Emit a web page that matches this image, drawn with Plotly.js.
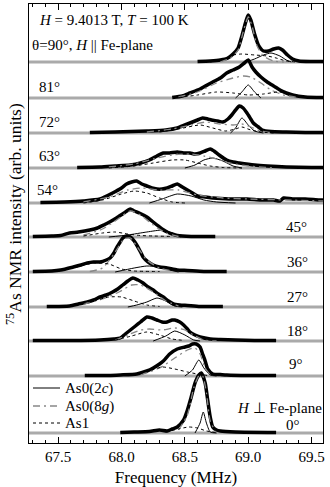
<!DOCTYPE html>
<html>
<head>
<meta charset="utf-8">
<script src="https://cdn.plot.ly/plotly-3.0.1.min.js"></script>
<style>
  html, body { margin: 0; padding: 0; background: #fff; }
  #chart { width: 330px; height: 487px; }
</style>
</head>
<body>
<div id="chart"></div>
<script>
// frequency range of the gray baselines (MHz)
const xFull = [67.27, 69.59];

// vertical offset of every spectrum (arb. units)
const angles  = ['90', '81', '72', '63', '54', '45', '36', '27', '18', '9', '0'];
const offsets = [381, 345, 310, 275, 240, 206, 171, 136, 102, 67, 10];

// [frequency MHz, intensity]
const obs90 = [[68.60,0.5],[68.70,1],[68.78,2],[68.84,4],[68.88,8],[68.92,14],[68.95,26],[68.98,40],[69.00,47],[69.02,42],[69.05,28],[69.08,17],[69.12,11],[69.16,11],[69.20,13],[69.24,14],[69.27,12],[69.31,7],[69.35,3],[69.40,1],[69.50,0.5],[69.59,0.5]];
const c2_90 = [[68.98,0],[69.05,3],[69.12,7],[69.18,9],[69.25,6],[69.30,2],[69.34,0]];
const g8_90 = [[68.78,0],[68.86,4],[68.92,12],[68.96,30],[69.00,45],[69.03,36],[69.07,16],[69.12,6],[69.20,1],[69.28,0]];
const a1_90 = [[68.70,0],[68.80,3],[68.88,7],[68.95,8],[69.05,7],[69.15,6],[69.22,4],[69.30,1],[69.38,0]];

const obs81 = [[68.40,0.5],[68.48,2],[68.54,5],[68.62,9],[68.72,16],[68.78,20],[68.83,25],[68.88,28],[68.93,31],[68.97,35],[69.00,38],[69.03,31],[69.06,26],[69.10,21],[69.15,16],[69.20,12],[69.25,8],[69.30,5],[69.35,3],[69.45,1],[69.59,0.5]];
const c2_81 = [[68.90,0],[68.95,6],[69.00,13],[69.05,6],[69.10,0]];
const g8_81 = [[68.45,1],[68.60,6],[68.75,15],[68.88,20],[68.96,22],[69.02,21],[69.10,15],[69.18,8],[69.28,3],[69.40,0.5]];
const a1_81 = [[68.45,0.5],[68.60,3],[68.75,6],[68.88,5],[69.00,3],[69.12,4],[69.24,6],[69.34,4],[69.45,1],[69.55,0]];

const obs72 = [[67.75,0.5],[67.95,1],[68.20,2],[68.35,3],[68.44,5],[68.50,8],[68.54,10],[68.60,13],[68.64,15],[68.68,14],[68.71,13],[68.76,12],[68.80,11],[68.84,14],[68.87,18],[68.90,23],[68.93,27],[68.96,25],[68.99,20],[69.02,14],[69.04,10],[69.08,6],[69.11,3],[69.18,1.5],[69.30,1],[69.45,0.5],[69.59,0.5]];
const c2_72 = [[68.86,0],[68.90,5],[68.95,15],[69.00,8],[69.05,2],[69.12,0]];
const g8_72 = [[68.20,1],[68.40,4],[68.55,8],[68.67,11],[68.78,9],[68.88,8],[68.95,9],[69.02,6],[69.10,2],[69.20,0]];
const a1_72 = [[68.30,1],[68.45,4],[68.62,8],[68.72,5],[68.82,2],[68.90,4],[68.95,6],[69.02,3],[69.10,1],[69.20,0]];

const obs63 = [[67.65,0.5],[67.83,1],[67.95,2],[68.07,3],[68.15,5],[68.22,8],[68.28,12],[68.33,15],[68.38,15],[68.44,16],[68.49,15],[68.54,15],[68.58,14],[68.62,15],[68.66,17],[68.70,19],[68.73,17],[68.77,13],[68.83,8],[68.88,6],[68.93,5],[69.05,3],[69.15,2],[69.30,1],[69.50,0.5],[69.59,0.5]];
const c2_63 = [[68.50,0],[68.58,3],[68.65,8],[68.72,10],[68.80,7],[68.88,2],[68.95,0]];
const g8_63 = [[67.90,1],[68.10,4],[68.25,9],[68.40,13],[68.55,14],[68.65,12],[68.75,9],[68.85,5],[69.00,2],[69.20,0]];
const a1_63 = [[67.90,0],[68.10,2],[68.25,5],[68.40,8],[68.50,8],[68.60,5],[68.70,2],[68.80,0.5],[68.95,0]];

const obs54 = [[67.36,0.5],[67.55,1],[67.70,2],[67.83,4],[67.93,10],[68.00,15],[68.04,19],[68.08,21],[68.12,22],[68.16,19],[68.20,17],[68.24,15],[68.28,14],[68.32,14],[68.36,15],[68.40,17],[68.44,19],[68.48,16],[68.52,13],[68.56,10],[68.60,7],[68.66,6],[68.72,5],[68.85,4],[68.99,4],[69.10,3],[69.20,3],[69.25,2],[69.28,5],[69.35,4],[69.45,4],[69.56,3],[69.59,3]];
const c2_54 = [[68.22,0],[68.32,4],[68.44,9],[68.55,7],[68.65,3],[68.75,1],[68.90,0]];
const g8_54 = [[67.70,1],[67.90,6],[68.05,13],[68.15,15],[68.30,13],[68.45,13],[68.60,8],[68.80,5],[69.00,4],[69.30,3],[69.59,2]];
const a1_54 = [[67.70,0],[67.85,3],[68.00,9],[68.10,12],[68.20,10],[68.30,5],[68.40,1],[68.50,0]];

const obs45 = [[67.30,0.5],[67.45,1],[67.52,1.5],[67.59,4],[67.66,5],[67.75,7],[67.81,9],[67.86,12],[67.92,16],[67.96,19],[68.02,24],[68.07,28],[68.10,26],[68.14,24],[68.20,20],[68.24,16],[68.28,12],[68.32,8],[68.36,5],[68.40,3],[68.44,1.5],[68.55,0.5],[68.74,0.5]];
const c2_45 = [[67.90,0],[68.05,2],[68.20,5],[68.33,7],[68.40,4],[68.47,0]];
const g8_45 = [[67.70,2],[67.85,8],[67.95,16],[68.07,26],[68.15,22],[68.25,12],[68.35,4],[68.45,0.5]];
const a1_45 = [[67.70,1],[67.85,4],[67.95,5],[68.05,3],[68.15,1.5],[68.25,1],[68.40,0.5]];

const obs36 = [[67.30,0.5],[67.45,1],[67.52,2],[67.62,5],[67.68,7],[67.73,9],[67.78,10],[67.83,10],[67.88,12],[67.91,14],[67.94,19],[67.96,24],[67.99,30],[68.01,34],[68.04,36],[68.07,35],[68.10,31],[68.12,27],[68.15,20],[68.17,15],[68.21,10],[68.25,7],[68.30,5],[68.36,4],[68.44,2],[68.52,1.5],[68.65,0.5],[68.83,0.5]];
const c2_36 = [[67.95,0],[68.10,4],[68.20,6],[68.30,5],[68.38,2],[68.45,0]];
const g8_36 = [[67.75,0.5],[67.85,4],[67.95,20],[68.02,33],[68.07,34],[68.12,26],[68.20,12],[68.30,4],[68.40,1]];
const a1_36 = [[67.50,1],[67.65,5],[67.78,9],[67.90,8],[68.00,3],[68.10,1],[68.30,0.5]];

const obs27 = [[67.41,0.5],[67.59,1],[67.66,3],[67.73,5],[67.78,7],[67.83,10],[67.88,12],[67.93,15],[67.97,18],[68.01,22],[68.05,26],[68.09,29],[68.13,27],[68.17,24],[68.21,20],[68.25,17],[68.29,13],[68.33,10],[68.37,6],[68.41,3],[68.46,2],[68.52,1.5],[68.62,0.5],[68.80,0.5]];
const c2_27 = [[68.05,0],[68.12,2],[68.20,5],[68.28,9],[68.35,6],[68.42,1],[68.48,0]];
const g8_27 = [[67.70,3],[67.85,8],[67.98,15],[68.08,22],[68.15,22],[68.25,15],[68.35,6],[68.45,1]];
const a1_27 = [[67.60,1],[67.75,5],[67.90,10],[68.00,10],[68.10,6],[68.20,2],[68.30,0.5]];

const obs18 = [[67.30,0.5],[67.60,0.5],[67.83,1],[67.94,2],[67.99,3],[68.03,7],[68.07,11],[68.11,15],[68.15,19],[68.20,24],[68.24,23],[68.28,21],[68.32,19],[68.36,19],[68.40,21],[68.42,21],[68.46,19],[68.49,16],[68.52,12],[68.54,9],[68.58,6],[68.62,4],[68.70,2],[68.78,1.5],[68.90,1],[69.05,0.5],[69.22,0.5]];
const c2_18 = [[68.25,0],[68.35,5],[68.42,10],[68.50,6],[68.57,1],[68.62,0]];
const g8_18 = [[67.95,1],[68.05,6],[68.15,11],[68.22,12],[68.32,11],[68.42,13],[68.50,11],[68.58,5],[68.65,1],[68.75,0]];
const a1_18 = [[67.95,1],[68.08,5],[68.20,9],[68.30,6],[68.40,2],[68.50,0.5]];

const obs9 = [[67.71,0.5],[67.90,0.5],[67.99,1],[68.12,2],[68.20,5],[68.25,8],[68.30,12],[68.33,15],[68.38,22],[68.44,27],[68.50,29],[68.53,30],[68.56,32],[68.59,32],[68.62,29],[68.64,22],[68.66,15],[68.68,7],[68.72,2],[68.78,1.5],[68.83,1],[69.00,0.5],[69.22,0.5]];
const c2_9 = [[68.50,0],[68.56,6],[68.61,16],[68.65,8],[68.70,1],[68.75,0]];
const g8_9 = [[68.15,1],[68.30,8],[68.42,18],[68.52,26],[68.58,28],[68.62,22],[68.66,8],[68.70,1]];
const a1_9 = [[68.10,1],[68.22,5],[68.32,9],[68.42,7],[68.52,4],[68.60,2],[68.68,0.5]];

const obs0 = [[67.99,0.5],[68.10,1],[68.22,1.5],[68.30,3],[68.36,2],[68.40,4],[68.44,6],[68.49,13],[68.52,23],[68.55,36],[68.58,50],[68.61,58],[68.63,60],[68.66,50],[68.68,33],[68.70,16],[68.72,6],[68.75,3],[68.78,2],[68.90,1],[69.22,0.5]];
const c2_0 = [[68.58,0],[68.62,10],[68.645,21],[68.67,10],[68.70,1],[68.75,0]];
const g8_0 = [[68.45,3],[68.52,18],[68.57,45],[68.61,57],[68.64,57],[68.67,40],[68.70,12],[68.74,2]];
const a1_0 = [[68.35,1],[68.45,4],[68.53,6],[68.60,5],[68.67,2],[68.75,0.5]];

const obsAll = [obs90, obs81, obs72, obs63, obs54, obs45, obs36, obs27, obs18, obs9, obs0];
const c2All  = [c2_90, c2_81, c2_72, c2_63, c2_54, c2_45, c2_36, c2_27, c2_18, c2_9, c2_0];
const g8All  = [g8_90, g8_81, g8_72, g8_63, g8_54, g8_45, g8_36, g8_27, g8_18, g8_9, g8_0];
const a1All  = [a1_90, a1_81, a1_72, a1_63, a1_54, a1_45, a1_36, a1_27, a1_18, a1_9, a1_0];

// legend entries (drawn by hand so the rows sit as tight as the original)
const legendNames = ['As0(2<i>c</i>)', 'As0(8<i>g</i>)', 'As1'];

const serif = 'Liberation Serif, Times New Roman, serif';
const styles = [
    { color: '#000', width: 1 },
    { color: '#888', width: 1.3, dash: '7px,4px,2px,4px' },
    { color: '#000', width: 1, dash: 'dot' }
];

function curve(pts, off, line) {
    return {
        x: pts.map(p => p[0]),
        y: pts.map(p => off + p[1]),
        mode: 'lines',
        line: Object.assign({ shape: 'spline', smoothing: 0.6 }, line),
        showlegend: false,
        hoverinfo: 'skip'
    };
}

const traces = [];
angles.forEach((a, i) => {
    const off = offsets[i];
    traces.push({
        x: xFull, y: [off, off], mode: 'lines',
        line: { color: '#aaaaaa', width: 3 }, showlegend: false, hoverinfo: 'skip'
    });
    traces.push(curve(obsAll[i], off, { color: '#000', width: 3.5 }));
    traces.push(curve(c2All[i], off, styles[0]));
    traces.push(curve(g8All[i], off, styles[1]));
    traces.push(curve(a1All[i], off, styles[2]));
});

// text labels positioned in paper units
const px = v => (v - 29) / 294;
const py = v => (443 - v) / 439;
const labelFont = { family: serif, size: 15, color: '#000' };
const notes = [
    { text: '<i>H</i> = 9.4013 T, <i>T</i> = 100 K', x: px(37), y: py(20), xanchor: 'left' },
    { text: 'θ=90°, <i>H</i> || Fe-plane', x: px(30), y: py(45), xanchor: 'left' },
    { text: '81°', x: px(37), y: py(87), xanchor: 'left' },
    { text: '72°', x: px(37), y: py(122), xanchor: 'left' },
    { text: '63°', x: px(37), y: py(156), xanchor: 'left' },
    { text: '54°', x: px(35), y: py(190), xanchor: 'left' },
    { text: '45°', x: px(309), y: py(227), xanchor: 'right' },
    { text: '36°', x: px(310), y: py(262), xanchor: 'right' },
    { text: '27°', x: px(310), y: py(297), xanchor: 'right' },
    { text: '18°', x: px(310), y: py(331), xanchor: 'right' },
    { text: '9°', x: px(305), y: py(364), xanchor: 'right' },
    { text: '<i>H</i> ⊥ Fe-plane', x: px(324), y: py(408), xanchor: 'right' },
    { text: '0°', x: px(302), y: py(425), xanchor: 'right' }
].map(n => Object.assign({
    xref: 'paper', yref: 'paper', yanchor: 'middle', showarrow: false, font: labelFont
}, n));

notes.push({
    text: '<sup>75</sup>As NMR intensity (arb. units)',
    xref: 'paper', yref: 'paper', x: px(14), y: py(214),
    xanchor: 'center', yanchor: 'middle', textangle: -90, showarrow: false,
    font: { family: serif, size: 17.5, color: '#000' }
});

const legendRows = [388, 406, 423];
const shapes = [];
legendNames.forEach((name, i) => {
    shapes.push({
        type: 'line', xref: 'paper', yref: 'paper',
        x0: px(33), x1: px(60), y0: py(legendRows[i]), y1: py(legendRows[i]),
        line: styles[i]
    });
    notes.push({
        text: name, xref: 'paper', yref: 'paper', x: px(63), y: py(legendRows[i]),
        xanchor: 'left', yanchor: 'middle', showarrow: false, font: labelFont
    });
});

const layout = {
    width: 330, height: 487,
    margin: { l: 29, r: 7, t: 4, b: 44 },
    paper_bgcolor: '#fff', plot_bgcolor: '#fff',
    font: { family: serif, color: '#000' },
    showlegend: false,
    xaxis: {
        range: xFull, dtick: 0.5, tick0: 67.5, tickformat: '.1f',
        ticks: 'inside', ticklen: 6, tickwidth: 1, tickcolor: '#000',
        minor: { dtick: 0.1, ticks: 'inside', ticklen: 3, tickcolor: '#000' },
        showline: true, linecolor: '#000', linewidth: 1, mirror: 'ticks',
        showgrid: false, zeroline: false,
        tickfont: { family: serif, size: 15 },
        title: { text: 'Frequency (MHz)', font: { family: serif, size: 17 }, standoff: 10 }
    },
    yaxis: {
        range: [0, 439], showticklabels: false, ticks: '',
        showline: true, linecolor: '#000', linewidth: 1, mirror: true,
        showgrid: false, zeroline: false
    },
    shapes: shapes,
    annotations: notes
};

Plotly.newPlot('chart', traces, layout, { staticPlot: true, displayModeBar: false });
</script>
</body>
</html>
